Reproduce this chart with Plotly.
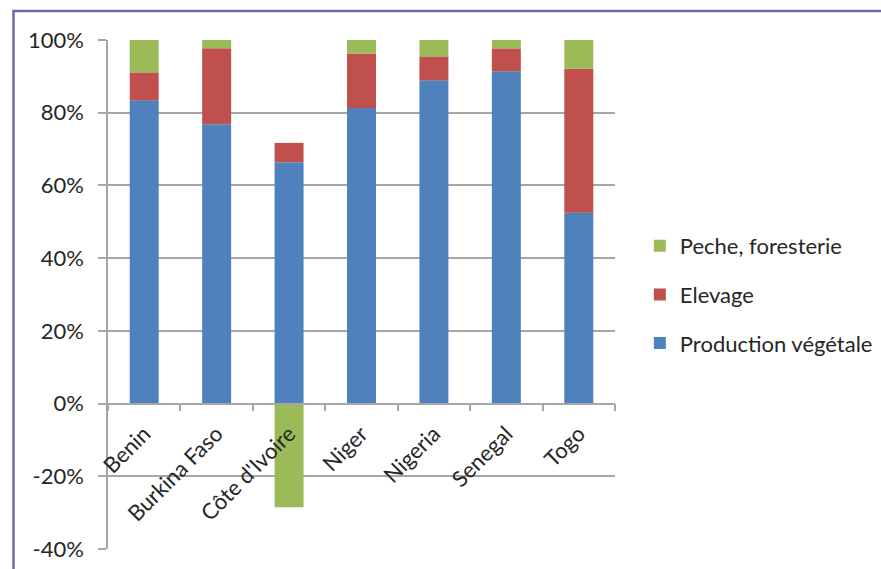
import plotly.graph_objects as go

# Shares of agricultural value added by sub-sector (%)
countries = ["Benin", "Burkina Faso", "Côte d'Ivoire", "Niger", "Nigeria", "Senegal", "Togo"]
production_vegetale = [83.4, 76.8, 66.4, 81.3, 88.9, 91.4, 52.5]
elevage = [7.7, 20.9, 5.3, 15.0, 6.6, 6.3, 39.6]
peche_foresterie = [8.9, 2.3, -28.5, 3.7, 4.5, 2.3, 7.9]

series_names = ["Production végétale", "Elevage", "Peche, foresterie"]
series_values = [production_vegetale, elevage, peche_foresterie]
series_colors = ["#4F81BD", "#C0504D", "#9BBB59"]
legend_ranks = [3, 2, 1]

y_ticks = [-40, -20, 0, 20, 40, 60, 80, 100]
y_tick_labels = [f"{v}%" for v in y_ticks]

FONT = "Lato, 'Open Sans', sans-serif"
TEXT = "#262626"
GRID = "#A6A6A6"

fig = go.Figure()
for name, vals, col, rank in zip(series_names, series_values, series_colors, legend_ranks):
    fig.add_trace(go.Bar(
        x=countries, y=vals, name=name, legendgroup=name, legendrank=rank,
        marker=dict(color=col, line=dict(width=0)),
        width=0.4,
    ))

W, H = 881, 569
L, R, T, B = 108, 266, 40, 20

fig.update_layout(
    width=W, height=H,
    margin=dict(l=L, r=R, t=T, b=B, autoexpand=False),
    barmode="relative",
    plot_bgcolor="white", paper_bgcolor="white",
    font=dict(family=FONT, size=22, color=TEXT),
    showlegend=True,
    legend=dict(
        traceorder="grouped", tracegroupgap=17,
        x=1.049, xanchor="left", y=0.5, yanchor="middle",
        font=dict(size=22, color=TEXT), bgcolor="rgba(0,0,0,0)",
    ),
    xaxis=dict(
        anchor="free", position=40 / 140, automargin=False,
        showline=True, linecolor=GRID, linewidth=1.5,
        ticks="outside", ticklen=7, tickcolor=GRID, tickwidth=1.5,
        tickson="boundaries", tickangle=-45, ticklabelstandoff=8,
        tickfont=dict(size=22, color=TEXT),
        showgrid=False, zeroline=False,
    ),
    yaxis=dict(
        range=[-40, 100], tickvals=y_ticks, ticktext=y_tick_labels,
        automargin=False,
        showline=True, linecolor=GRID, linewidth=1.5,
        ticks="outside", ticklen=8, tickcolor=GRID, tickwidth=1.5,
        showgrid=True, gridcolor=GRID, gridwidth=1.5,
        zeroline=False, ticklabelstandoff=10,
        tickfont=dict(size=22, color=TEXT),
    ),
)

# Chart frame (left and top edges visible, extending past the page)
pw, ph = W - L - R, H - T - B
def px_x(p):
    return (p - L) / pw
def px_y(p):
    return (H - B - p) / ph

fig.add_shape(
    type="rect", xref="paper", yref="paper",
    x0=px_x(13.5), x1=px_x(W + 20), y0=px_y(H + 20), y1=px_y(11),
    line=dict(color="#6B6BAA", width=2.5), fillcolor="rgba(0,0,0,0)", layer="below",
)

fig.write_html("out.html")
